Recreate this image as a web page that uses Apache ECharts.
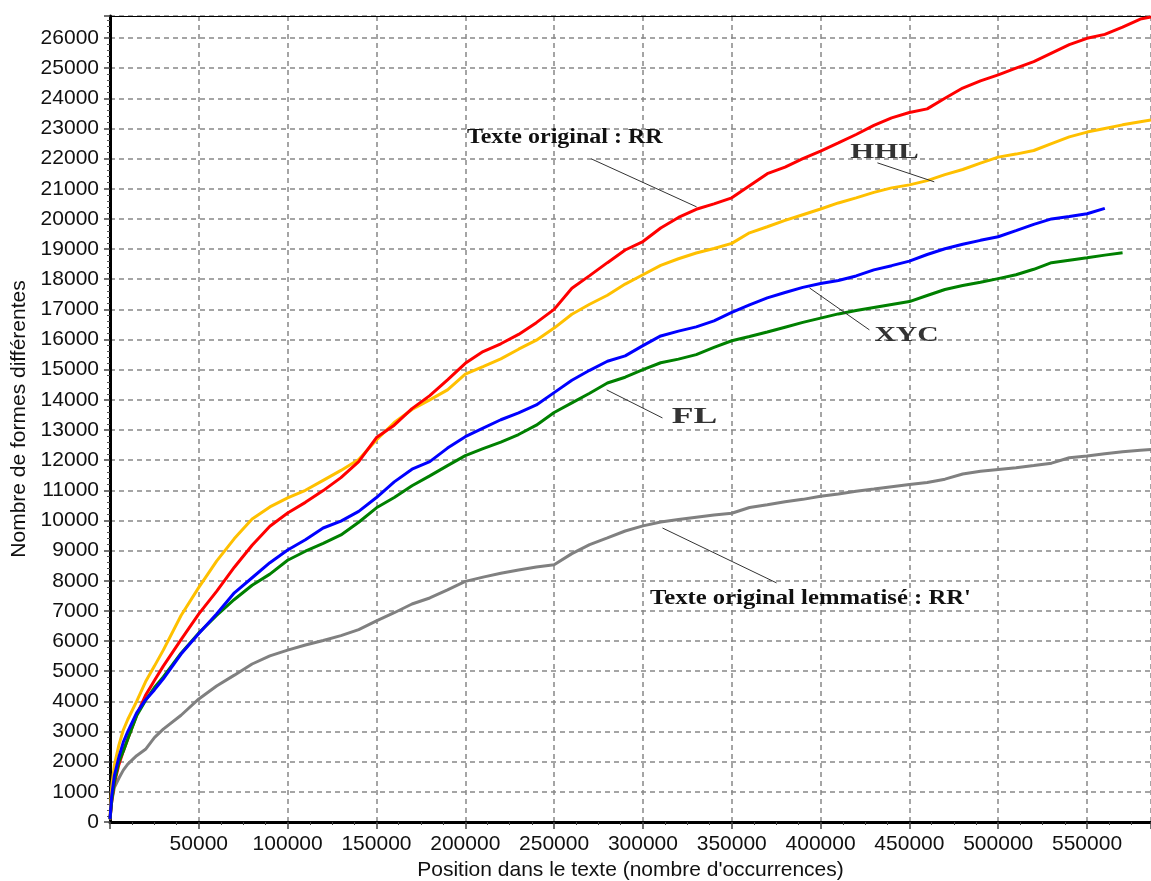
<!DOCTYPE html>
<html>
<head>
<meta charset="utf-8">
<script src="https://cdn.jsdelivr.net/npm/echarts@6/dist/echarts.min.js"></script>
<style>
html,body{margin:0;padding:0;background:#fff;}
#c{width:1151px;height:881px;}
</style>
</head>
<body>
<div id="c"></div>
<script>
// ---- DATA ----
const positions = [0, 1000, 2500, 5000, 7500, 10000, 15000, 20000, 25000, 30000,
  40000, 50000, 60000, 70000, 80000, 90000, 100000, 110000, 120000, 130000,
  140000, 150000, 160000, 170000, 180000, 190000, 200000, 210000, 220000, 230000,
  240000, 250000, 260000, 270000, 280000, 290000, 300000, 310000, 320000, 330000,
  340000, 350000, 360000, 370000, 380000, 390000, 400000, 410000, 420000, 430000,
  440000, 450000, 460000, 470000, 480000, 490000, 500000, 510000, 520000, 530000,
  540000, 550000, 560000, 570000, 580000,
  586000];

// Texte original : RR (red)
const rrValues = [100, 700, 1300, 1900, 2350, 2750, 3550, 4200, 4690, 5170,
  6050, 6900, 7650, 8450, 9180, 9810, 10250, 10600, 10990, 11420,
  11950, 12750, 13160, 13710, 14140, 14660, 15210, 15600, 15860, 16170,
  16560, 17000, 17700, 18120, 18550, 18970, 19250, 19700, 20050, 20320,
  20500, 20700, 21100, 21500, 21720, 22000, 22250, 22520, 22800, 23100,
  23350, 23530, 23650, 24000, 24340, 24580, 24780, 25000, 25220, 25500,
  25780, 25990, 26120, 26360, 26630,
  26700];

// HHL (orange)
const hhlValues = [200, 1200, 1900, 2550, 3050, 3400, 4000, 4650, 5170, 5700,
  6850, 7780, 8650, 9400, 10050, 10450, 10750, 11000, 11330, 11660,
  12020, 12670, 13250, 13680, 14000, 14330, 14850, 15100, 15360, 15680,
  15980, 16380, 16840, 17170, 17470, 17840, 18150, 18460, 18680, 18870,
  19020, 19190, 19540, 19740, 19950, 20140, 20330, 20530, 20700, 20880,
  21030, 21130, 21270, 21470, 21640, 21850, 22050, 22150, 22270, 22500,
  22720, 22880, 23000, 23120, 23220,
  23280];

// XYC (blue)
const xycValues = [100, 900, 1550, 2150, 2650, 3000, 3620, 4050, 4380, 4750,
  5570, 6250, 6900, 7600, 8100, 8600, 9020, 9360, 9750, 9980,
  10300, 10760, 11280, 11700, 11950, 12400, 12780, 13060, 13340, 13570,
  13830, 14240, 14650, 14980, 15280, 15460, 15800, 16120, 16280, 16420,
  16620, 16900, 17150, 17380, 17560, 17730, 17860, 17960, 18110, 18310,
  18450, 18600, 18820, 19010, 19160, 19290, 19410, 19610, 19820, 20000,
  20080, 20170, 20350, null, null,
  null];

// FL (green)
const flValues = [100, 730, 1350, 2000, 2350, 2750, 3520, 4030, 4460, 4810,
  5600, 6270, 6850, 7380, 7850, 8220, 8680, 8980, 9240, 9520,
  9940, 10420, 10760, 11150, 11480, 11820, 12150, 12380, 12600, 12850,
  13160, 13580, 13900, 14220, 14560, 14750, 15000, 15230, 15350, 15500,
  15740, 15960, 16100, 16250, 16410, 16570, 16710, 16850, 16960, 17060,
  17160, 17260, 17460, 17660, 17790, 17900, 18020, 18150, 18330, 18550,
  18630, 18710, 18800, 18880, null,
  null];

// Texte original lemmatisé : RR' (grey)
const rrLemValues = [80, 700, 1150, 1450, 1720, 1920, 2200, 2410, 2800, 3080,
  3540, 4080, 4510, 4870, 5240, 5510, 5700, 5870, 6020, 6180,
  6380, 6670, 6940, 7230, 7430, 7700, 7980, 8120, 8250, 8360,
  8460, 8530, 8900, 9200, 9420, 9650, 9820, 9950, 10030, 10110,
  10180, 10240, 10430, 10520, 10620, 10700, 10800, 10880, 10970, 11040,
  11120, 11190, 11260, 11370, 11540, 11630, 11690, 11750, 11820, 11900,
  12080, 12140, 12210, 12280, 12330,
  12350];

const seriesNames = ["Texte original : RR", "HHL", "XYC", "FL", "Texte original lemmatisé : RR'"];

// ---- annotation layout (data coordinates of label centres and leader lines) ----
const annotations = [
  {text: "Texte original : RR", at: [256000, 22690], from: [271000, 21990], to: [330200, 20400], size: 20, scaleX: 1.2, color: '#111'},
  {text: "HHL", at: [436000, 22220], from: [432000, 21860], to: [464000, 21230], size: 22, scaleX: 1.4, color: '#333'},
  {text: "XYC", at: [448400, 16150], from: [393800, 17710], to: [427500, 16320], size: 22, scaleX: 1.35, color: '#333'},
  {text: "FL", at: [329000, 13430], from: [279600, 14330], to: [311000, 13400], size: 23, scaleX: 1.55, color: '#333'},
  {text: "Texte original lemmatisé : RR'", at: [394300, 7430], from: [311000, 9750], to: [375200, 7930], size: 22, scaleX: 1.12, color: '#111'}
];

const SANS = '"Liberation Sans", Arial, sans-serif';
const SERIF = '"Liberation Serif", "Times New Roman", serif';

function pairs(vals) {
  const out = [];
  positions.forEach((p, i) => { if (vals[i] !== null && vals[i] !== undefined) out.push([p, vals[i]]); });
  return out;
}

function lineSeries(name, vals, color, z) {
  return {
    name: name, type: 'line', data: pairs(vals), showSymbol: false, symbol: 'none',
    xAxisIndex: 0, yAxisIndex: 0, z: z,
    lineStyle: {color: color, width: 3}, itemStyle: {color: color}
  };
}

const plain = v => String(Math.round(v));

const chart = echarts.init(document.getElementById('c'), null, {renderer: 'canvas'});
const option = {
  animation: false,
  backgroundColor: '#fff',
  grid: {left: 110, right: 0, top: 16, bottom: 59, containLabel: false, outerBoundsMode: 'none'},
  xAxis: [{
    type: 'value', min: 0, max: 586000, interval: 50000, position: 'bottom',
    name: "Position dans le texte (nombre d'occurrences)", nameLocation: 'middle', nameGap: 36,
    nameTextStyle: {fontSize: 21, color: '#111', fontFamily: SANS},
    axisLine: {show: true, onZero: false, lineStyle: {color: '#000', width: 3}},
    axisTick: {show: true, inside: false, length: 7, lineStyle: {color: '#444', width: 1.5}},
    minorTick: {show: true, splitNumber: 4, length: 3, lineStyle: {color: '#444', width: 1}},
    axisLabel: {fontSize: 21, color: '#111', margin: 12, showMinLabel: false, showMaxLabel: false, fontFamily: SANS, formatter: plain},
    splitLine: {show: true, lineStyle: {color: '#888', type: [5, 4], width: 1.5}}
  }, {
    type: 'value', min: 0, max: 586000, position: 'top',
    axisLine: {show: true, onZero: false, lineStyle: {color: '#000', width: 1}},
    axisTick: {show: false}, axisLabel: {show: false}, splitLine: {show: false}
  }],
  yAxis: [{
    type: 'value', min: 0, max: 26730, interval: 1000,
    name: 'Nombre de formes différentes', nameLocation: 'middle', nameGap: 72,
    nameTextStyle: {fontSize: 21, color: '#111', fontFamily: SANS},
    axisLine: {show: true, onZero: false, lineStyle: {color: '#000', width: 3}},
    axisTick: {show: true, inside: false, length: 6, lineStyle: {color: '#444', width: 1.5}},
    minorTick: {show: true, splitNumber: 5, length: 3, lineStyle: {color: '#555', width: 1}},
    axisLabel: {fontSize: 21, color: '#111', margin: 11, showMaxLabel: false, fontFamily: SANS, formatter: plain},
    splitLine: {show: true, lineStyle: {color: '#888', type: [5, 4], width: 1.5}}
  }],
  series: [
    lineSeries(seriesNames[4], rrLemValues, '#808080', 2),
    lineSeries(seriesNames[1], hhlValues, '#FFC000', 3),
    lineSeries(seriesNames[0], rrValues, '#FF0000', 4),
    lineSeries(seriesNames[3], flValues, '#008000', 5),
    lineSeries(seriesNames[2], xycValues, '#0000FF', 6)
  ]
};
chart.setOption(option);

const toPx = p => chart.convertToPixel({xAxisIndex: 0, yAxisIndex: 0}, p);
const graphics = [];
annotations.forEach(a => {
  const f = toPx(a.from), t = toPx(a.to), c = toPx(a.at);
  graphics.push({type: 'line', silent: true, z: 100,
    shape: {x1: f[0], y1: f[1], x2: t[0], y2: t[1]},
    style: {stroke: '#333', lineWidth: 1}});
  graphics.push({type: 'text', silent: true, z: 100, x: c[0], y: c[1], scaleX: a.scaleX,
    style: {text: a.text, fontSize: a.size, fontWeight: 'bold', fontFamily: SERIF,
      fill: a.color, align: 'center', verticalAlign: 'middle'}});
});
chart.setOption({graphic: graphics});
</script>
</body>
</html>
